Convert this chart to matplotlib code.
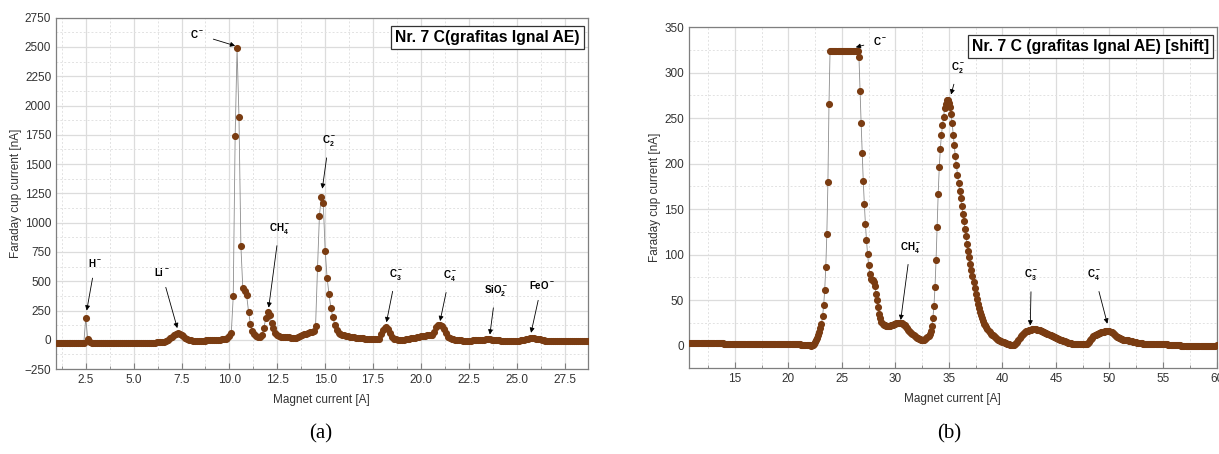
import numpy as np
import matplotlib
matplotlib.use("Agg")
import matplotlib.pyplot as plt
from matplotlib.ticker import MultipleLocator, FormatStrFormatter

plt.rcParams["font.family"] = ["Liberation Sans", "DejaVu Sans"]
plt.rcParams["mathtext.fontset"] = "custom"
plt.rcParams["mathtext.rm"] = "Liberation Sans"
plt.rcParams["mathtext.bf"] = "Liberation Sans:bold"

# ---- panel (a): magnet current scan 1.0 .. 28.7 A, 0.1 A step ----
a_start, a_step = 1.0, 0.1
a_current = [
    -25, -25, -25, -25, -25, -25, -25, -25, -25, -25,      # 1.x
    -25, -25, -25, -25, -25, 190, 5, -18, -23, -24,        # 2.x
    -24, -24, -24, -24, -24, -24, -24, -24, -24, -24,      # 3.x
    -24, -24, -24, -24, -24, -24, -24, -24, -24, -24,      # 4.x
    -24, -24, -24, -24, -24, -24, -24, -24, -24, -23,      # 5.x
    -23, -23, -22, -22, -21, -20, -16, -9, 2, 15,          # 6.x
    28, 40, 50, 55, 52, 43, 30, 17, 7, 0,                  # 7.x
    -5, -8, -10, -10, -10, -9, -8, -6, -5, -4,             # 8.x
    -3, -2, -1, 0, 0, 1, 3, 6, 10, 18,                     # 9.x
    35, 62, 370, 1740, 2490, 1900, 800, 440, 420, 380,     # 10.x
    240, 134, 75, 48, 33, 26, 28, 45, 100, 185,            # 11.x
    241, 213, 142, 100, 62, 42, 30, 23, 20, 20,            # 12.x
    22, 22, 18, 14, 14, 18, 25, 32, 40, 47,                # 13.x
    53, 58, 63, 68, 75, 122, 611, 1060, 1222, 1166,        # 14.x
    762, 531, 390, 270, 195, 130, 85, 62, 50, 43,          # 15.x
    38, 34, 30, 27, 24, 21, 19, 17, 15, 13,                # 16.x
    12, 10, 9, 8, 7, 6, 5, 3, 10, 50,                      # 17.x
    80, 100, 108, 92, 60, 28, 10, 3, 0, 0,                 # 18.x
    1, 2, 4, 6, 9, 12, 15, 18, 21, 24,                     # 19.x
    30, 32, 35, 38, 40, 42, 44, 70, 110, 126,              # 20.x
    128, 118, 90, 55, 28, 14, 7, 3, 0, -2,                 # 21.x
    -4, -5, -6, -6, -6, -6, -6, -5, -5, -4,                # 22.x
    -3, -2, 0, 2, 4, 5, 4, 2, 0, -2,                       # 23.x
    -4, -5, -6, -7, -7, -8, -8, -8, -8, -8,                # 24.x
    -8, -7, -5, -2, 2, 7, 11, 14, 15, 14,                  # 25.x
    11, 7, 3, -1, -5, -8, -10, -11, -12, -12,              # 26.x
    -12, -12, -13, -13, -13, -13, -12, -12, -13, -13,      # 27.x
    -13, -13, -13, -13, -13, -13, -13, -13,                # 28.0 .. 28.7
]

# ---- panel (b): shifted scan 10.8 .. 60.0 A, 0.1 A step ----
b_start, b_step = 10.8, 0.1
b_current = [
    2.2, 2.2,                                                      # 10.8, 10.9
    2.2, 2.2, 2.2, 2.2, 2.2, 2.2, 2.2, 2.2, 2.2, 2.2,              # 11.x
    2.2, 2.2, 2.2, 2.2, 2.2, 2.2, 2.2, 2.2, 2.2, 2.2,              # 12.x
    2.2, 2.2, 2.2, 2.2, 2.2, 2.2, 2.2, 2.2, 2.2, 2.2,              # 13.x
    2.1, 2.1, 2.1, 2.1, 2.1, 2.1, 2.1, 2.1, 2.1, 2.1,              # 14.x
    2.1, 2.1, 2.1, 2.1, 2.1, 2.1, 2.1, 2.1, 2.1, 2.1,              # 15.x
    2.0, 2.0, 2.0, 2.0, 2.0, 2.0, 2.0, 2.0, 2.0, 2.0,              # 16.x
    2.0, 2.0, 2.0, 2.0, 2.0, 2.0, 2.0, 2.0, 2.0, 2.0,              # 17.x
    1.9, 1.9, 1.9, 1.9, 1.9, 1.9, 1.9, 1.9, 1.9, 1.9,              # 18.x
    1.8, 1.8, 1.8, 1.8, 1.8, 1.8, 1.8, 1.8, 1.8, 1.8,              # 19.x
    1.7, 1.7, 1.6, 1.6, 1.5, 1.5, 1.4, 1.4, 1.3, 1.3,              # 20.x
    1.2, 1.1, 1.0, 0.9, 0.8, 0.6, 0.4, 0.2, 0.1, 0.0,              # 21.x
    0.0, -0.3, 0.0, 0.8, 2.0, 3.5, 5.5, 8, 11, 15,                 # 22.x
    19, 24, 32, 44, 61, 86, 123, 180, 266, 324,                    # 23.x
    324, 324, 324, 324, 324, 324, 324, 324, 324, 324,              # 24.x
    324, 324, 324, 324, 324, 324, 324, 324, 324, 324,              # 25.x
    324, 324, 324, 324, 324, 324, 317, 280, 245, 212,              # 26.x
    181, 156, 134, 116, 101, 89, 79, 73, 72, 72,                   # 27.x
    70, 65, 57, 50, 42, 35, 30, 26, 24, 22.5,                      # 28.x
    22, 21.5, 21, 21, 21, 21.5, 22, 22.5, 23, 23.5,                # 29.x
    24, 24.5, 25, 25, 25, 25, 24.5, 24, 23, 22,                    # 30.x
    20.5, 19, 17.5, 16, 14.5, 13.5, 12.5, 11.5, 10.5, 9.5,         # 31.x
    8.5, 8, 7.5, 7, 6.5, 6.5, 6.5, 6.5, 7, 8,                      # 32.x
    9, 10.5, 13, 16, 21, 30, 43, 64, 94, 130,                      # 33.x
    167, 196, 216, 231, 242, 251, 261, 266, 270, 270,              # 34.x
    267, 262, 255, 245, 232, 220, 208, 198, 188, 179,              # 35.x
    170, 162, 153, 145, 137, 128, 120, 112, 104, 97,               # 36.x
    90, 83, 76, 70, 63, 57, 51, 46, 41, 37,                        # 37.x
    33, 30, 27, 24, 22, 20, 18, 16, 14.5, 13,                      # 38.x
    12, 11, 10, 9, 8, 7, 6.5, 6, 5, 4.5,                           # 39.x
    4, 3.5, 3, 2.5, 2, 1.5, 1.2, 1, 0.8, 0.7,                      # 40.x
    0.8, 1, 1.5, 2.5, 4, 6, 8, 10, 12, 13,                         # 41.x
    14, 15, 15.5, 16, 16, 16.5, 17, 17.5, 18, 18,                  # 42.x
    18, 17.8, 17.5, 17.2, 17, 16.5, 16, 15.5, 15, 14.5,            # 43.x
    14, 13.5, 13, 12.5, 12, 11, 10.5, 10, 9.5, 9,                  # 44.x
    8.5, 8, 7.5, 7, 6.5, 6, 5.5, 5, 4.5, 4,                        # 45.x
    3.5, 3, 2.8, 2.5, 2.2, 2, 1.8, 1.6, 1.5, 1.4,                  # 46.x
    1.3, 1.2, 1.2, 1.1, 1.1, 1.1, 1.2, 1.3, 1.5, 2,                # 47.x
    3, 4, 5.5, 7, 8.5, 10, 11, 12, 12.5, 13,                       # 48.x
    13.5, 14, 14.5, 14.5, 15, 15, 15.5, 15.5, 16, 16,              # 49.x
    15.5, 15, 14.5, 13.5, 12.5, 11.5, 10.5, 9.5, 9, 8.5,           # 50.x
    8, 7.5, 7, 6.5, 6.2, 6, 5.8, 5.5, 5.2, 5,                      # 51.x
    4.8, 4.5, 4.2, 4, 3.8, 3.5, 3.2, 3, 2.7, 2.5,                  # 52.x
    2.2, 2, 1.8, 1.6, 1.5, 1.5, 1.5, 1.6, 1.7, 1.8,                # 53.x
    1.8, 1.9, 2, 2, 2, 1.9, 1.8, 1.7, 1.6, 1.5,                    # 54.x
    1.5, 1.4, 1.3, 1.2, 1.1, 1, 0.9, 0.8, 0.7, 0.6,                # 55.x
    0.5, 0.4, 0.3, 0.2, 0.1, 0, 0, -0.1, -0.2, -0.3,               # 56.x
    -0.4, -0.5, -0.5, -0.6, -0.6, -0.7, -0.7, -0.7, -0.7, -0.7,    # 57.x
    -0.7, -0.7, -0.7, -0.7, -0.7, -0.7, -0.7, -0.7, -0.7, -0.7,    # 58.x
    -0.6, -0.6, -0.5, -0.5, -0.4, -0.4, -0.3, -0.3, -0.2, -0.2,    # 59.x
    0.0,                                                           # 60.0
]

# peak labels: (label, text xy, arrow tip xy)
a_peaks = [
    (r"$\mathbf{H^-}$", (3.0, 660), (2.55, 250)),
    (r"$\mathbf{Li^-}$", (6.45, 580), (7.28, 100)),
    (r"$\mathbf{C^-}$", (8.3, 2610), (10.3, 2510)),
    (r"$\mathbf{CH_4^-}$", (12.6, 950), (12.05, 275)),
    (r"$\mathbf{C_2^-}$", (15.2, 1700), (14.85, 1290)),
    (r"$\mathbf{C_3^-}$", (18.7, 560), (18.2, 150)),
    (r"$\mathbf{C_4^-}$", (21.5, 550), (21.0, 160)),
    (r"$\mathbf{SiO_2^-}$", (23.9, 420), (23.6, 45)),
    (r"$\mathbf{FeO^-}$", (26.3, 470), (25.75, 60)),
]
b_peaks = [
    (r"$\mathbf{C^-}$", (28.6, 335), (26.3, 328)),
    (r"$\mathbf{C_2^-}$", (35.9, 306), (35.2, 276)),
    (r"$\mathbf{CH_4^-}$", (31.4, 108), (30.5, 28)),
    (r"$\mathbf{C_3^-}$", (42.7, 78), (42.6, 22)),
    (r"$\mathbf{C_4^-}$", (48.6, 78), (49.8, 24)),
]

DOT = "#7a3c12"


def draw_panel(ax, x, y, xlim, ylim, xmaj, ymaj, xfmt, title, peaks):
    ax.plot(x, y, color="#8c8c8c", lw=0.6, zorder=2)
    ax.plot(x, y, ls="none", marker="o", ms=4.1, mfc=DOT, mec=DOT, zorder=3)
    ax.set_xlim(*xlim)
    ax.set_ylim(*ylim)
    ax.xaxis.set_major_locator(MultipleLocator(xmaj))
    ax.xaxis.set_minor_locator(MultipleLocator(xmaj / 2))
    ax.yaxis.set_major_locator(MultipleLocator(ymaj))
    ax.yaxis.set_minor_locator(MultipleLocator(ymaj / 2))
    ax.xaxis.set_major_formatter(FormatStrFormatter(xfmt))
    ax.grid(which="major", color="#dcdcdc", lw=0.9)
    ax.grid(which="minor", color="#e2e2e2", lw=0.7, ls=(0, (2, 2)))
    ax.set_axisbelow(True)
    for s in ax.spines.values():
        s.set_color("#7f7f7f")
        s.set_linewidth(0.9)
    ax.tick_params(which="both", direction="in", colors="#7f7f7f",
                   labelcolor="#333333", labelsize=8.5)
    ax.tick_params(which="major", length=4)
    ax.tick_params(which="minor", length=2.5)
    ax.tick_params(axis="y", which="both", length=0)
    ax.set_xlabel("Magnet current [A]", fontsize=8.5, color="#333333", labelpad=6)
    ax.set_ylabel("Faraday cup current [nA]", fontsize=8.5, color="#333333", labelpad=2)
    ax.text(0.985, 0.965, title, transform=ax.transAxes, ha="right", va="top",
            fontsize=11.3, fontweight="bold", color="black",
            bbox=dict(boxstyle="square,pad=0.25", fc="white", ec="#333333", lw=0.9))
    for lab, txy, tip in peaks:
        ax.annotate(lab, xy=tip, xytext=txy, fontsize=7, ha="center", va="center",
                    arrowprops=dict(arrowstyle="-|>", color="black", lw=0.6,
                                    mutation_scale=7, shrinkA=5, shrinkB=0),
                    zorder=5)


fig = plt.figure(figsize=(12.19, 4.54), dpi=100)
ax_a = fig.add_axes([0.046, 0.187, 0.436, 0.774])
ax_b = fig.add_axes([0.565, 0.189, 0.433, 0.751])

x_a = np.round(a_start + a_step * np.arange(len(a_current)), 1)
x_b = np.round(b_start + b_step * np.arange(len(b_current)), 1)

draw_panel(ax_a, x_a, a_current, (0.95, 28.7), (-250, 2750), 2.5, 250, "%.1f",
           "Nr. 7 C(grafitas Ignal AE)", a_peaks)
draw_panel(ax_b, x_b, b_current, (10.7, 60.0), (-25, 350), 5, 50, "%d",
           "Nr. 7 C (grafitas Ignal AE) [shift]", b_peaks)

fig.text(0.263, 0.035, "(a)", family="Liberation Serif", fontsize=15, ha="center")
fig.text(0.779, 0.035, "(b)", family="Liberation Serif", fontsize=15, ha="center")

fig.savefig("out.png", dpi=100, facecolor="white")
